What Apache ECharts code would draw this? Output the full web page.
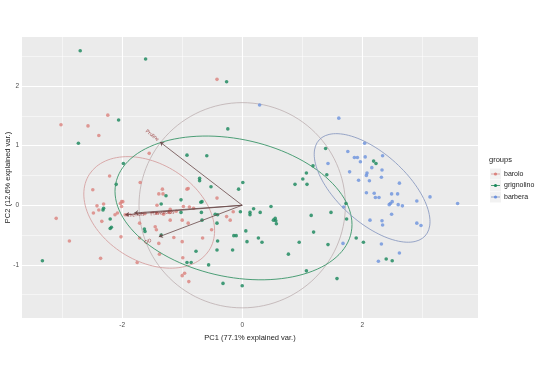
<!DOCTYPE html>
<html><head><meta charset="utf-8">
<script src="https://cdn.jsdelivr.net/npm/echarts@6/dist/echarts.min.js"></script>
<style>html,body{margin:0;padding:0;background:#fff}#c{width:540px;height:377px}</style>
</head><body><div id="c"></div>
<script>
const groups = ['barolo', 'grignolino', 'barbera'];
const groupColors = ['#DB827D', '#17865A', '#6C92DD'];

const barolo = [[-0.42,2.11],[-2.24,1.51],[-3.02,1.35],[-2.57,1.33],[-2.39,1.17],[-1.55,0.87],[-2.21,0.49],[-1.70,0.38],[-2.49,0.26],[-1.33,0.27],[-1.39,0.19],[-0.92,0.27],[-2.01,0.06],[-2.01,-0.02],[-2.42,-0.01],[-2.31,0.02],[-2.39,-0.08],[-2.48,-0.13],[-2.12,-0.16],[-2.08,-0.13],[-2.34,-0.27],[-3.10,-0.22],[-2.02,-0.53],[-2.88,-0.60],[-2.36,-0.89],[-1.75,-0.96],[-1.43,-0.41],[-1.71,-0.55],[-1.39,-0.64],[-1.00,-0.61],[-1.14,-0.54],[-0.90,-0.30],[-0.66,-0.55],[-0.51,-0.41],[-1.38,-0.82],[-0.99,-0.88],[-1.00,-1.18],[-0.96,-1.14],[-0.89,-1.28],[-0.20,-0.25],[-0.15,-0.11],[-0.98,-0.02],[-0.81,-0.05],[-0.88,-0.03],[-1.21,-0.12],[-1.31,-0.15],[-1.42,-0.13],[-1.95,-0.16],[-2.03,0.03],[-1.32,0.19],[-1.42,0.00],[-1.20,-0.07],[-1.20,-0.25],[-1.00,-0.25],[-0.90,0.28],[-0.42,0.12],[-0.26,-0.19],[-1.45,-0.36],[-1.71,-0.30],[-1.99,0.06],[-1.62,-0.14],[-1.10,-0.10]];
const grignolino = [[-2.70,2.59],[-1.61,2.45],[-0.26,2.07],[-2.06,1.43],[-2.73,1.04],[-0.24,1.28],[-0.92,0.84],[-0.59,0.83],[-1.98,0.70],[-0.71,0.45],[-0.71,0.41],[-0.52,0.31],[0.01,0.38],[-0.06,0.27],[-2.10,0.35],[-1.27,0.16],[-1.02,0.09],[-0.67,0.06],[-1.35,0.02],[-2.32,-0.08],[-2.20,-0.23],[-2.18,-0.37],[-3.33,-0.93],[-1.63,-0.40],[-1.35,-0.50],[-0.42,-0.30],[-0.41,-0.16],[-0.68,-0.12],[-1.02,-0.12],[-0.41,-0.60],[-0.42,-0.75],[-0.77,-0.77],[-0.92,-0.96],[-0.85,-0.96],[-0.56,-1.00],[-0.32,-1.31],[0.00,-1.35],[-0.16,-0.75],[-0.14,-0.51],[-0.10,-0.51],[0.06,-0.43],[0.08,-0.61],[-0.03,-0.11],[0.13,-0.12],[0.19,-0.06],[0.30,-0.12],[0.27,-0.55],[0.33,-0.62],[1.39,0.95],[1.18,0.66],[1.07,0.54],[1.01,0.44],[1.08,0.35],[0.88,0.35],[1.41,0.51],[2.19,0.74],[2.23,0.70],[1.73,0.03],[1.48,-0.12],[1.74,-0.23],[1.15,-0.17],[1.90,-0.55],[2.02,-0.62],[1.43,-0.66],[1.19,-0.45],[0.95,-0.62],[2.40,-0.90],[2.50,-0.93],[1.58,-1.23],[1.07,-1.10],[0.77,-0.82],[0.48,-0.02],[0.13,-0.16],[0.55,-0.22],[0.56,-0.26],[0.52,-0.25],[0.57,-0.31],[-1.62,-0.44],[-2.20,-0.39],[-2.31,-0.05],[-0.69,0.05],[-0.45,-0.15],[-0.67,-0.25]];
const barbera = [[0.29,1.68],[1.61,1.46],[1.43,0.70],[2.04,1.04],[1.76,0.90],[1.87,0.80],[1.92,0.80],[2.05,0.81],[1.97,0.73],[2.34,0.83],[2.16,0.63],[2.33,0.59],[1.79,0.56],[2.08,0.54],[2.07,0.50],[2.32,0.47],[1.94,0.42],[2.12,0.41],[2.62,0.37],[2.07,0.21],[2.20,0.20],[2.49,0.19],[2.59,0.19],[2.22,0.13],[2.28,0.13],[3.13,0.14],[2.91,0.07],[3.59,0.03],[2.47,0.03],[2.50,0.06],[2.45,0.01],[2.60,0.01],[2.67,-0.01],[2.49,-0.15],[2.13,-0.25],[2.33,-0.26],[2.34,-0.33],[2.91,-0.30],[2.98,-0.34],[1.69,-0.03],[1.68,-0.64],[2.32,-0.65],[2.62,-0.80],[2.27,-0.94]];
const groupData = [barolo, grignolino, barbera];

// ellipse parameters: [centre x, centre y, var x, var y, cov xy]
const ellipseBarolo = [-1.55, -0.12, 1.188, 0.874, -0.335];
const ellipseGrignolino = [-0.145, -0.045, 3.90, 1.452, -0.55];
const ellipseBarbera = [2.165, 0.29, 0.931, 0.828, -0.545];
const ellipseParams = [ellipseBarolo, ellipseGrignolino, ellipseBarbera];
const ellipseColors = ['#D6A1A1', '#3A9569', '#8C9CC2'];
const circleRadius = 1.72;

// variable arrows
const arrowTips = [[-1.37, 1.06], [-1.95, -0.16], [-1.80, -0.13], [-1.39, -0.53]];
const arrowLabels = [
  [-1.50, 1.17, 'Proline', -37],
  [-1.78, -0.16, 'Phenols', 5],
  [-1.33, -0.13, 'Flavanoids', 5],
  [-1.57, -0.61, 'OD', 21]
];

const xTicks = [-2, 0, 2];
const yTicks = [-1, 0, 1, 2];
const xMinor = [-3, -1, 1, 3];
const yMinor = [-1.5, -0.5, 0.5, 1.5, 2.5];

function ellipsePath(p) {
  const [cx, cy, a, b, c] = p;
  const l11 = Math.sqrt(a), l21 = c / l11, l22 = Math.sqrt(b - l21 * l21);
  const pts = [];
  for (let i = 0; i <= 120; i++) {
    const t = i / 120 * 2 * Math.PI;
    pts.push([cx + l11 * Math.cos(t), cy + l21 * Math.cos(t) + l22 * Math.sin(t)]);
  }
  return pts;
}
function circlePath(r) {
  const pts = [];
  for (let i = 0; i <= 120; i++) {
    const t = i / 120 * 2 * Math.PI;
    pts.push([r * Math.cos(t), r * Math.sin(t)]);
  }
  return pts;
}

const series = [];
series.push({
  type: 'scatter', data: [], silent: true, z: 1,
  markLine: {
    z: 1, silent: true, symbol: ['none', 'none'], label: { show: false }, animation: false,
    data: [
      ...xMinor.map(v => ({ xAxis: v, lineStyle: { color: '#fff', width: 0.5, type: 'solid' } })),
      ...yMinor.map(v => ({ yAxis: v, lineStyle: { color: '#fff', width: 0.5, type: 'solid' } })),
      ...xTicks.map(v => ({ xAxis: v, lineStyle: { color: '#fff', width: 1.1, type: 'solid' } })),
      ...yTicks.map(v => ({ yAxis: v, lineStyle: { color: '#fff', width: 1.1, type: 'solid' } }))
    ]
  }
});
series.push({
  type: 'line', data: circlePath(circleRadius), showSymbol: false, silent: true, z: 2,
  lineStyle: { color: '#BCAFB0', width: 0.8 }, animation: false
});
groups.forEach((g, i) => {
  series.push({
    name: g, type: 'scatter', data: groupData[i], symbolSize: 3.6, z: 3,
    itemStyle: { color: groupColors[i] }, animation: false
  });
});
groups.forEach((g, i) => {
  series.push({
    type: 'line', data: ellipsePath(ellipseParams[i]), showSymbol: false, silent: true, z: 4,
    lineStyle: { color: ellipseColors[i], width: 0.9 }, animation: false
  });
});
series.push({
  type: 'lines', coordinateSystem: 'cartesian2d', z: 5, silent: true, animation: false,
  symbol: ['none', 'arrow'], symbolSize: 4,
  lineStyle: { color: '#6B4A4A', width: 0.9, opacity: 0.9 },
  data: arrowTips.map(t => ({ coords: [[0, 0], t] }))
});
series.push({
  type: 'scatter', z: 6, symbolSize: 0, silent: true, animation: false,
  data: arrowLabels.map(l => ({
    value: [l[0], l[1]], name: l[2],
    label: { rotate: l[3] }
  })),
  label: {
    show: true, position: 'inside', formatter: p => p.name,
    color: '#8B1A1A', fontSize: 5, fontFamily: 'Liberation Sans'
  }
});

const graphics = [{
  type: 'text', left: 489, top: 156,
  style: { text: 'groups', fontSize: 7.5, fill: '#222', fontFamily: 'Liberation Sans' }
}];
groups.forEach((g, i) => {
  const y = 174 + i * 11.5;
  graphics.push({ type: 'rect', shape: { x: 490, y: y - 5.5, width: 11, height: 11 }, style: { fill: '#F2F2F2' } });
  graphics.push({ type: 'line', shape: { x1: 491, y1: y, x2: 500, y2: y }, style: { stroke: ellipseColors[i], lineWidth: 0.9 } });
  graphics.push({ type: 'circle', shape: { cx: 495.5, cy: y, r: 1.6 }, style: { fill: groupColors[i] } });
  graphics.push({ type: 'text', x: 504, y: y, style: { text: g, fontSize: 7, fill: '#222', verticalAlign: 'middle', fontFamily: 'Liberation Sans' } });
});

const axisCommon = {
  type: 'value',
  axisLine: { show: false },
  splitLine: { show: false },
  nameLocation: 'middle',
  nameTextStyle: { fontSize: 7.5, color: '#222', fontFamily: 'Liberation Sans' }
};

const chart = echarts.init(document.getElementById('c'), null, { renderer: 'canvas' });
chart.setOption({
  animation: false,
  backgroundColor: '#fff',
  textStyle: { fontFamily: 'Liberation Sans' },
  grid: { left: 22, right: 62, top: 37, bottom: 59, show: true, backgroundColor: '#EBEBEB', borderWidth: 0, containLabel: false, outerBoundsMode: 'none' },
  xAxis: Object.assign({}, axisCommon, {
    min: -3.67, max: 3.93,
    name: 'PC1 (77.1% explained var.)', nameGap: 16,
    axisTick: { show: true, customValues: xTicks, length: 2.5, lineStyle: { color: '#444', width: 0.6 } },
    axisLabel: { customValues: xTicks, fontSize: 6.5, color: '#4D4D4D', margin: 4 }
  }),
  yAxis: Object.assign({}, axisCommon, {
    min: -1.89, max: 2.82,
    name: 'PC2 (12.6% explained var.)', nameGap: 10, nameMoveOverlap: false,
    axisTick: { show: true, customValues: yTicks, length: 2.5, lineStyle: { color: '#444', width: 0.6 } },
    axisLabel: { customValues: yTicks, fontSize: 6.5, color: '#4D4D4D', margin: 3 }
  }),
  graphic: graphics,
  series: series
});
</script>
</body></html>
